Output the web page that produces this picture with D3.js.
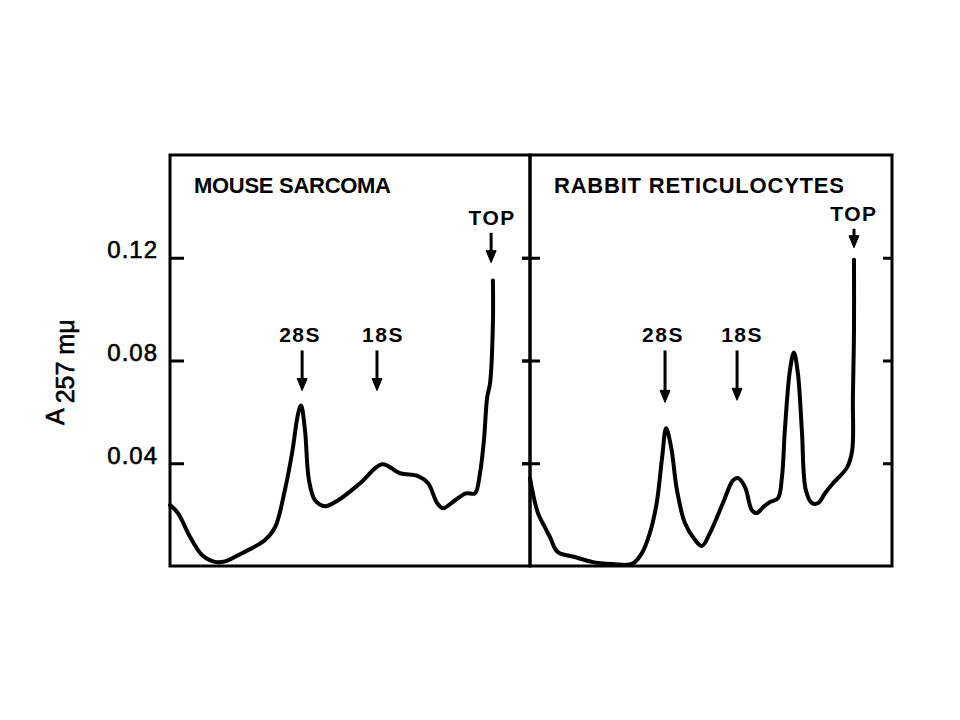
<!DOCTYPE html>
<html>
<head>
<meta charset="utf-8">
<script src="https://cdn.jsdelivr.net/npm/d3@7"></script>
<style>
  html, body { margin: 0; padding: 0; background: #fff; }
  svg { display: block; }
</style>
</head>
<body>
<svg id="chart"></svg>
<script>
// y ticks (absorbance)
const tickValues = [0.04, 0.08, 0.12];

// position along gradient, % of panel width (bottom -> top of tube)
const sarcomaPos = [0, 2.2, 5.6, 8.9, 12.5, 15.3, 20.0, 26.4, 29.2, 31.9, 33.9, 35.6, 36.4, 37.5, 38.6, 40.3, 43.1, 46.7,
  52.8, 58.9, 63.9, 68.9, 71.7, 74.2, 75.8, 79.2, 82.2, 84.7, 86.1, 87.2, 88.1, 88.9, 89.7, 89.7];
const sarcomaA = [0.0237, 0.0206, 0.0113, 0.0043, 0.0016, 0.0018, 0.0050, 0.0101, 0.0151, 0.0295, 0.0439, 0.0594, 0.0625, 0.0528, 0.0334, 0.0256, 0.0233, 0.0256,
  0.0322, 0.0396, 0.0361, 0.0350, 0.0322, 0.0245, 0.0225, 0.0256, 0.0283, 0.0283, 0.0361, 0.0489, 0.0656, 0.0711, 0.0944, 0.1111];

const rabbitPos = [0, 0.8, 2.2, 4.1, 5.5, 7.7, 12.4, 17.1, 22.7, 28.2, 30.9, 33.1, 35.0, 36.5, 37.6, 39.0, 40.6, 42.8, 45.6, 47.5,
  49.7, 53.3, 56.1, 57.5, 59.4, 61.3, 62.7, 64.4, 66.3, 68.5, 69.6, 70.4, 71.8, 72.9, 74.0, 75.1, 76.2, 77.9, 79.6, 81.5, 83.7,
  87.6, 89.0, 89.2, 89.5, 89.5];
const rabbitA = [0.0342, 0.0283, 0.0206, 0.0151, 0.0113, 0.0054, 0.0035, 0.0016, 0.0008, 0.0008, 0.0050, 0.0128, 0.0245, 0.0423, 0.0536, 0.0462, 0.0295, 0.0167, 0.0101, 0.0078,
  0.0128, 0.0245, 0.0334, 0.0342, 0.0307, 0.0217, 0.0206, 0.0229, 0.0249, 0.0264, 0.0346, 0.0528, 0.0761, 0.0831, 0.0750, 0.0528, 0.0295, 0.0245, 0.0245, 0.0283, 0.0322,
  0.0384, 0.0450, 0.0656, 0.0917, 0.1192];

const panelTitles = ["MOUSE SARCOMA", "RABBIT RETICULOCYTES"];

// arrow markers: label, position (%), arrow top and tip (absorbance)
const markerLabels = ["28S", "18S", "TOP"];
const sarcomaMarkPos = [36.7, 57.5, 89.2];
const sarcomaMarkTop = [0.0839, 0.0839, 0.1297];
const sarcomaMarkTip = [0.0683, 0.0683, 0.1181];
const rabbitMarkPos = [37.3, 57.2, 89.5];
const rabbitMarkTop = [0.0839, 0.0839, 0.1313];
const rabbitMarkTip = [0.0637, 0.0645, 0.1239];

const width = 960;
const height = 720;
const plotTop = 155, plotBottom = 566;
const font = "'Liberation Sans', Arial, sans-serif";

const svg = d3.select("#chart").attr("width", width).attr("height", height);
svg.append("rect").attr("width", width).attr("height", height).attr("fill", "#fff");

const y = d3.scaleLinear().domain([0, 0.16]).range([plotBottom, plotTop]);

const panels = [
  { title: panelTitles[0], titleLen: 197, pos: sarcomaPos, val: sarcomaA,
    mPos: sarcomaMarkPos, mTop: sarcomaMarkTop, mTip: sarcomaMarkTip, mDx: [-2, 6, 1],
    x: d3.scaleLinear().domain([0, 100]).range([170, 530]) },
  { title: panelTitles[1], titleLen: 290, pos: rabbitPos, val: rabbitA,
    mPos: rabbitMarkPos, mTop: rabbitMarkTop, mTip: rabbitMarkTip, mDx: [-2, 5, 0],
    x: d3.scaleLinear().domain([0, 100]).range([530, 892]) }
];

const line = d3.line().curve(d3.curveCatmullRom.alpha(0.5));

panels.forEach((p, i) => {
  const g = svg.append("g");
  const x = p.x;

  // frame
  g.append("rect")
    .attr("x", x(0)).attr("y", y(0.16))
    .attr("width", x(100) - x(0)).attr("height", y(0) - y(0.16))
    .attr("fill", "none").attr("stroke", "#000").attr("stroke-width", 3);

  // ticks on the left edge of the panel
  const leftTicks = g.append("g")
    .attr("transform", `translate(${x(0)},0)`)
    .call(d3.axisRight(y).tickValues(tickValues).tickSize(i === 0 ? 14 : 10).tickFormat(""));
  // ticks on the right edge
  const rightTicks = g.append("g")
    .attr("transform", `translate(${x(100)},0)`)
    .call(d3.axisLeft(y).tickValues(tickValues).tickSize(i === 0 ? 8 : 9).tickFormat(""));
  [leftTicks, rightTicks].forEach(a => {
    a.select(".domain").remove();
    a.selectAll("line").attr("stroke", "#000").attr("stroke-width", 3);
  });
  if (i === 1) {
    // middle divider ticks cross outward to the left as well
    leftTicks.selectAll("line").attr("x1", -8);
  }

  // curve
  const pts = p.pos.map((d, k) => [x(d), y(p.val[k])]);
  g.append("path")
    .attr("d", line(pts))
    .attr("fill", "none")
    .attr("stroke", "#000")
    .attr("stroke-width", 4)
    .attr("stroke-linejoin", "round")
    .attr("stroke-linecap", "round");

  // title
  g.append("text")
    .attr("x", x(0) + 24).attr("y", 193)
    .attr("textLength", p.titleLen).attr("lengthAdjust", "spacing")
    .style("font-family", font).style("font-weight", "bold").style("font-size", "22px")
    .text(p.title);

  // arrows
  markerLabels.forEach((lab, k) => {
    const ax = x(p.mPos[k]);
    const y0 = y(p.mTop[k]);
    const y1 = y(p.mTip[k]);
    g.append("line")
      .attr("x1", ax).attr("x2", ax).attr("y1", y0).attr("y2", y1 - 6)
      .attr("stroke", "#000").attr("stroke-width", 3);
    g.append("path")
      .attr("d", `M${ax - 5},${y1 - 12} L${ax + 5},${y1 - 12} L${ax},${y1} Z`)
      .attr("fill", "#000").attr("stroke", "#000").attr("stroke-width", 1).attr("stroke-linejoin", "round");
    g.append("text")
      .attr("x", ax + p.mDx[k]).attr("y", lab === "TOP" ? y0 - 8 : y0 - 8)
      .attr("text-anchor", "middle")
      .style("font-family", font).style("font-weight", "bold").style("font-size", "21px")
      .style("letter-spacing", "1.5px")
      .text(lab);
  });
});

// y axis labels
const yAxis = svg.append("g")
  .attr("transform", `translate(${panels[0].x(0)},0)`)
  .call(d3.axisLeft(y).tickValues(tickValues).tickSize(0).tickPadding(12).tickFormat(d3.format(".2f")));
yAxis.select(".domain").remove();
yAxis.selectAll("text")
  .attr("dy", "0")
  .attr("fill", "#000")
  .style("font-family", font).style("font-size", "24px")
  .style("stroke", "#000").style("stroke-width", 0.6)
  .style("letter-spacing", "1px");

// y axis title: A with subscript 257 mμ
const yt = svg.append("text")
  .attr("transform", "translate(64,425) rotate(-90)")
  .style("font-family", font).style("font-size", "25px")
  .style("stroke", "#000").style("stroke-width", 0.6);
yt.append("tspan").text("A");
yt.append("tspan").attr("dx", 5).attr("dy", 10).text("257 mμ");
</script>
</body>
</html>
